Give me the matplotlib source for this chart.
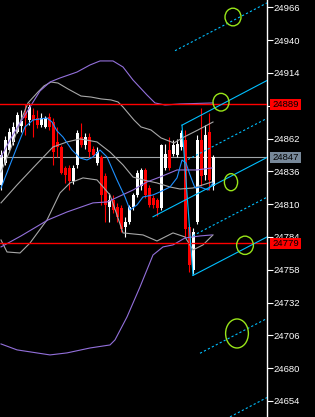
import matplotlib
matplotlib.use("Agg")
import matplotlib.pyplot as plt
from matplotlib.patches import Ellipse, Rectangle

plt.rcParams["font.family"] = ["Liberation Sans", "DejaVu Sans"]

# --- velas (open, high, low, close), una por barra ---
opens = [24825, 24843, 24853, 24859, 24867, 24872, 24882, 24877, 24881, 24878,
         24873, 24871, 24879, 24875, 24859, 24855, 24839, 24839, 24828, 24841,
         24863, 24857, 24863, 24854, 24843, 24847, 24832, 24808, 24813, 24808,
         24807, 24792, 24796, 24808, 24817, 24824, 24837, 24823, 24815, 24813,
         24807, 24839, 24853, 24850, 24849, 24855, 24861, 24792, 24758, 24796,
         24861, 24833, 24867, 24824]
highs = [24853, 24864, 24870, 24875, 24883, 24885, 24889, 24890, 24886, 24885,
         24882, 24880, 24882, 24878, 24871, 24857, 24840, 24841, 24841, 24869,
         24874, 24866, 24866, 24856, 24855, 24849, 24835, 24819, 24817, 24811,
         24809, 24800, 24809, 24819, 24837, 24839, 24839, 24825, 24817, 24815,
         24858, 24858, 24863, 24861, 24862, 24869, 24869, 24794, 24791, 24865,
         24886, 24873, 24882, 24849]
lows = [24821, 24841, 24851, 24857, 24866, 24867, 24865, 24873, 24863, 24870,
        24871, 24870, 24869, 24841, 24847, 24834, 24827, 24821, 24826, 24839,
        24855, 24854, 24847, 24847, 24841, 24809, 24796, 24796, 24803, 24796,
        24788, 24784, 24794, 24805, 24816, 24821, 24815, 24808, 24807, 24801,
        24805, 24837, 24837, 24848, 24847, 24853, 24784, 24756, 24755, 24794,
        24824, 24829, 24821, 24821]
closes = [24849, 24861, 24867, 24871, 24881, 24876, 24878, 24887, 24877, 24873,
          24878, 24878, 24871, 24851, 24855, 24835, 24833, 24828, 24839, 24866,
          24857, 24863, 24851, 24849, 24851, 24817, 24809, 24813, 24805, 24800,
          24790, 24796, 24808, 24817, 24835, 24837, 24817, 24809, 24809, 24807,
          24857, 24850, 24839, 24857, 24858, 24866, 24790, 24762, 24788, 24861,
          24832, 24865, 24829, 24847]

# --- indicadores (barra, precio) ---
ma_x = [0, 2.25, 4, 6, 8, 11.5, 12.75, 14, 15.5, 17.75, 19.75, 21.5, 23, 24.75,
        26.5, 29, 31, 32.25, 34, 35.5, 38, 39.75, 42.25, 44, 45.25, 46.25, 47.25,
        48.5, 49.75, 51.75, 53]
ma_y = [24822.8, 24841.1, 24855.3, 24871.2, 24876.7, 24878.3, 24875.1, 24868.0,
        24863.2, 24852.9, 24846.6, 24845.0, 24847.4, 24852.9, 24847.4, 24829.2,
        24815.7, 24805.4, 24809.4, 24815.7, 24817.3, 24819.7, 24823.6, 24830.8,
        24845.0, 24842.6, 24833.1, 24822.8, 24823.6, 24821.2, 24826.8]

gray_up_x = [0, 2.5, 5, 6.75, 9.25, 10.75, 12.5, 14.25, 16.75, 20, 22.5, 25, 27.5,
             29.25, 30.5, 31.75, 33.25, 35, 37.5, 40, 43.25, 45.75, 49.25, 53]
gray_up_y = [24835.5, 24854.5, 24876.7, 24890.2, 24898.9, 24903.7, 24906.8,
             24906.0, 24901.3, 24895.7, 24894.9, 24893.4, 24892.6, 24891.0,
             24887.0, 24882.3, 24876.7, 24871.2, 24868.8, 24862.5, 24858.5,
             24863.2, 24868.8, 24875.1]

gray_mid_x = [0, 4, 8, 13, 16.5, 19.75, 24, 27.25, 30.5, 33, 35.5, 39, 42.25,
              44.75, 48, 52.75]
gray_mid_y = [24811.0, 24825.2, 24838.7, 24855.3, 24859.3, 24861.7, 24859.3,
              24851.3, 24841.1, 24831.5, 24829.2, 24826.8, 24823.6, 24822.0,
              24822.8, 24827.6]

gray_lo_x = [0, 1.5, 4.75, 7.25, 11.5, 14.75, 17.25, 20.5, 24, 27.25, 29, 30.5,
             35.5, 39, 43, 46, 48, 50.5, 53]
gray_lo_y = [24781.6, 24772.1, 24771.3, 24779.2, 24797.5, 24818.9, 24826.8,
             24830.8, 24829.2, 24817.3, 24801.4, 24787.2, 24785.6, 24780.8,
             24787.2, 24784.0, 24773.7, 24777.7, 24785.6]

purple_up_x = [0, 2.25, 4.75, 7.25, 9.75, 12.25, 14.75, 19, 22.25, 24.75, 28,
               30.5, 33, 36.5, 38.5, 41, 44.75, 53]
purple_up_y = [24847.4, 24860.9, 24874.3, 24887.0, 24899.7, 24906.8, 24910.0,
               24914.7, 24920.3, 24923.5, 24923.5, 24918.7, 24908.4, 24896.5,
               24890.2, 24888.6, 24889.4, 24890.2]

purple_mid_x = [0, 5, 11.75, 16.5, 23, 26.5, 33, 36.5, 39.75, 44, 49, 52.75]
purple_mid_y = [24776.1, 24784.8, 24797.5, 24803.8, 24811.0, 24811.7, 24821.2,
                24827.6, 24831.5, 24837.1, 24837.1, 24838.7]

purple_lo_x = [0, 4, 12.25, 16.5, 22.25, 27.25, 28.5, 31.5, 34.75, 38, 40.5, 43,
               46, 49.75, 52.75]
purple_lo_y = [24699.2, 24694.5, 24690.5, 24692.1, 24696.0, 24698.4, 24702.4,
               24720.6, 24744.4, 24769.7, 24776.1, 24777.7, 24783.2, 24784.8,
               24785.6]

# --- niveles y objetos ---
red_levels = [24889, 24779]
bid_price = 24847
y_ticks = [24966, 24940, 24914, 24888, 24862, 24836, 24810, 24784, 24758,
           24732, 24706, 24680, 24654]
# 24888 queda tapado por la etiqueta roja en el original
y_tick_labels = ["24966", "24940", "24914", "", "24862", "24836", "24810",
                 "24784", "24758", "24732", "24706", "24680", "24654"]

# lineas del canal: (barra inicio, precio inicio, barra fin, precio fin)
solid_lines = [(45.25, 24872.6, 66.5, 24908.0),
               (38.0, 24800.0, 66.5, 24847.0),
               (48.0, 24753.5, 66.5, 24784.0),
               (45.25, 24872.6, 48.0, 24753.5)]
dashed_lines = [(43.5, 24931.6, 66.5, 24969.5),
                (46.75, 24845.4, 66.5, 24878.0),
                (48.0, 24785.0, 66.5, 24815.5),
                (49.75, 24691.8, 66.5, 24719.4),
                (57.25, 24641.4, 66.5, 24656.7)]

# circulos: (barra, precio, ancho en barras, alto en precio)
circles = [(58.0, 24958.3, 4.0, 14.0),
           (55.0, 24890.8, 4.0, 14.0),
           (57.5, 24827.4, 3.3, 13.5),
           (61.0, 24777.4, 4.2, 14.5),
           (59.0, 24707.5, 5.7, 23.0)]

# --- figura ---
fig = plt.figure(figsize=(3.15, 4.17), dpi=100, facecolor="black")
ax = fig.add_axes([0, 0, 267 / 315, 1])
ax.set_facecolor("black")
ax.set_xlim(-0.25, 66.5)
ax.set_ylim(24641.3, 24971.8)

# linea del bid (detras de las velas)
ax.axhline(bid_price, color="#a0a4a8", lw=0.8, zorder=1)

# velas
for i in range(len(opens)):
    o, h, l, c = opens[i], highs[i], lows[i], closes[i]
    col = "white" if c >= o else "#ff0000"
    ax.vlines(i, l, h, color=col, lw=0.8, zorder=2)
    body = max(abs(c - o), 0.8)
    ax.bar(i, body, bottom=min(o, c), width=0.75, color=col, lw=0,
           antialiased=False, zorder=2)

# indicadores
ax.plot(gray_up_x, gray_up_y, color="#a8a8a8", lw=0.8, zorder=3)
ax.plot(gray_mid_x, gray_mid_y, color="#a8a8a8", lw=0.8, zorder=3)
ax.plot(gray_lo_x, gray_lo_y, color="#a8a8a8", lw=0.8, zorder=3)
ax.plot(purple_up_x, purple_up_y, color="#9370db", lw=0.8, zorder=3)
ax.plot(purple_mid_x, purple_mid_y, color="#9370db", lw=0.8, zorder=3)
ax.plot(purple_lo_x, purple_lo_y, color="#9370db", lw=0.8, zorder=3)
ax.plot(ma_x, ma_y, color="#1e90ff", lw=0.8, zorder=3)

# niveles rojos
for lvl in red_levels:
    ax.axhline(lvl, color="#ff0000", lw=1, zorder=4)

# canal
for x0, y0, x1, y1 in solid_lines:
    ax.plot([x0, x1], [y0, y1], color="#00bfff", lw=0.8, zorder=5)
for x0, y0, x1, y1 in dashed_lines:
    ax.plot([x0, x1], [y0, y1], color="#00bfff", lw=0.8, ls=(0, (2, 2)), zorder=5)

for cx, cy, w, h in circles:
    ax.add_patch(Ellipse((cx, cy), w, h, fill=False, ec="#99e619", lw=1, zorder=6))

# eje derecho
for s in ["top", "left", "bottom"]:
    ax.spines[s].set_visible(False)
ax.spines["right"].set_color("white")
ax.spines["right"].set_linewidth(1)
ax.set_xticks([])
ax.yaxis.tick_right()
ax.set_yticks(y_ticks)
ax.set_yticklabels(y_tick_labels)
ax.tick_params(axis="y", colors="white", labelcolor="white", labelsize=6.8,
               length=4, width=0.8, pad=1)

# etiquetas de precio
tr = ax.get_yaxis_transform()
labels = [(red_levels[0], "#ff0000"), (bid_price, "#778899"), (red_levels[1], "#ff0000")]
for val, col in labels:
    ax.add_patch(Rectangle((1 + 3 / 267, val - 5.5 / 1.262), 31 / 267, 11 / 1.262,
                           transform=tr, clip_on=False, fc=col, ec="none", zorder=8))
    ax.text(1 + 5 / 267, val, str(val), transform=tr, color="black", fontsize=6.8,
            va="center", ha="left", clip_on=False, zorder=9)

fig.savefig("out.png", dpi=100, facecolor="black")
